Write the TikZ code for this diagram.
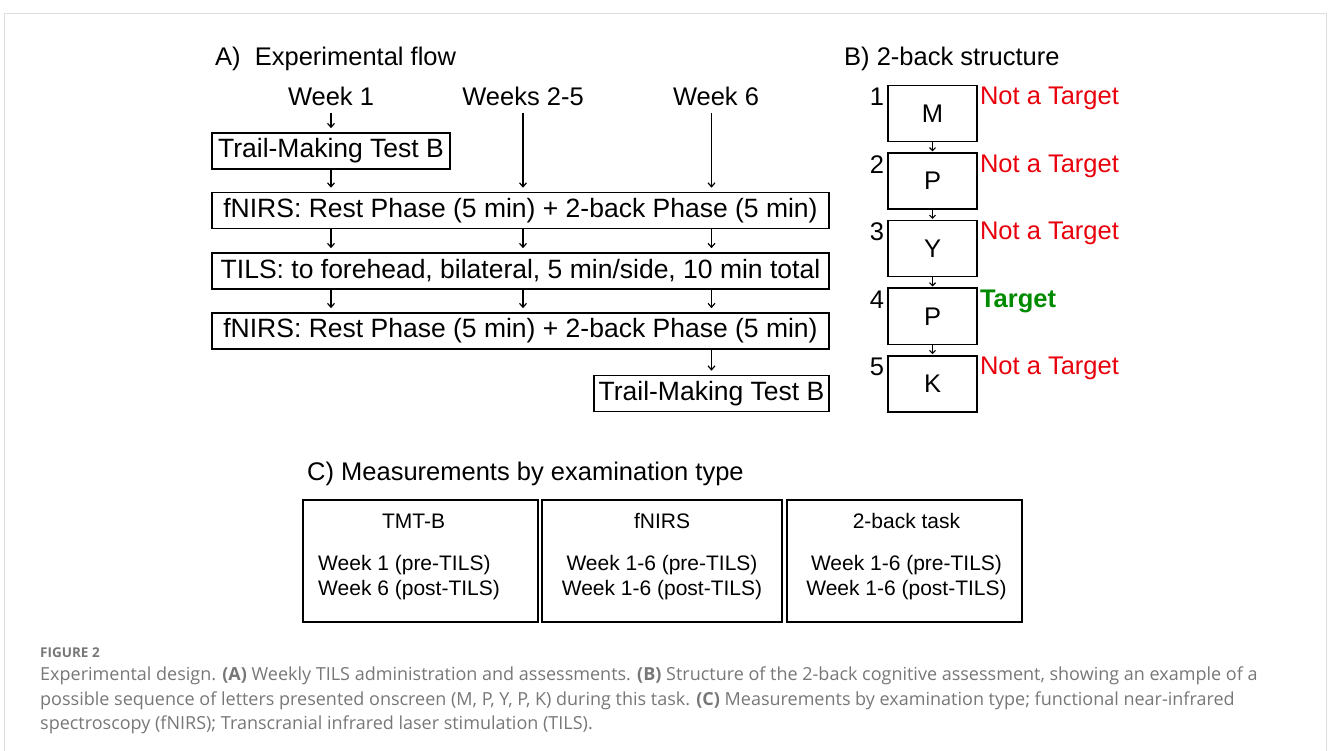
\documentclass[tikz,border=0pt]{standalone}
\usepackage{fontspec}
\setmainfont{Liberation Sans}
\newfontfamily\captionfont{Open Sans}
\usetikzlibrary{arrows.meta,positioning}
\definecolor{frameGrey}{HTML}{DEDEDE}
\definecolor{notRed}{HTML}{E8000B}
\definecolor{hitGreen}{HTML}{008A00}
\definecolor{capGrey}{HTML}{777777}

\begin{document}
\begin{tikzpicture}[x=1pt,y=-1pt,
    txt/.style={inner sep=2pt,font=\fontsize{25.5}{30}\selectfont},
    flowbox/.style={draw,inner sep=2pt,line width=1.6pt,minimum height=36pt,font=\fontsize{26.5}{30}\selectfont},
    letterbox/.style={txt,draw,line width=1.6pt,minimum width=89pt,minimum height=56pt},
    measbox/.style={draw,line width=2.2pt,minimum height=122pt},
    meastxt/.style={inner sep=0pt,font=\fontsize{21}{25}\selectfont},
    flow/.style={-{Straight Barb[length=4pt,width=7pt]},line width=1.2pt,shorten >=4pt}]
  \useasboundingbox (0,0) rectangle (1328,751);
  \draw[frameGrey,line width=1.2pt] (4.5,751) -- (4.5,13.5) -- (1326.5,13.5) -- (1326.5,751);

  % A) experimental flow
  \node[txt,anchor=base west] (headA) at (213,66) {A)\ \ Experimental flow};
  \node[txt,anchor=base] (wk1) at (331,106) {Week 1};
  \node[txt,anchor=base] (wk25) at (523,106) {Weeks 2-5};
  \node[txt,anchor=base] (wk6) at (716,106) {Week 6};
  \node[flowbox,minimum width=238pt] (tmtA) at (331,151) {Trail-Making Test B};
  \node[flowbox,minimum width=617pt] (fnirsA) at (520.5,210.5) {fNIRS: Rest Phase (5 min) + 2-back Phase (5 min)};
  \node[flowbox,minimum width=617pt] (tils) at (520.5,271) {TILS: to forehead, bilateral, 5 min/side, 10 min total};
  \node[flowbox,minimum width=617pt] (fnirsB) at (520.5,331) {fNIRS: Rest Phase (5 min) + 2-back Phase (5 min)};
  \node[flowbox,minimum width=235pt] (tmtB) at (711.5,393.5) {Trail-Making Test B};

  \draw[flow,shorten <=5pt] (wk1.south -| tmtA) -- (tmtA);
  \draw[flow,shorten <=5pt] (wk25.south) -- (wk25.south |- fnirsA.north);
  \draw[flow,shorten <=5pt] (wk6.south -| tmtB) -- (tmtB |- fnirsA.north);
  \draw[flow] (tmtA) -- (tmtA |- fnirsA.north);
  \foreach \c in {tmtA,wk25,tmtB}{
    \draw[flow] (fnirsA.south -| \c) -- (tils.north -| \c);
    \draw[flow] (tils.south -| \c) -- (fnirsB.north -| \c);
  }
  \draw[flow] (fnirsB.south -| tmtB) -- (tmtB);

  % B) 2-back structure
  \node[txt,anchor=base west] (headB) at (842,66) {B) 2-back structure};
  \node[letterbox] (l1) at (932.5,113.5) {M};
  \node[letterbox,below=10pt of l1] (l2) {P};
  \node[letterbox,below=10pt of l2] (l3) {Y};
  \node[letterbox,below=10pt of l3] (l4) {P};
  \node[letterbox,below=10pt of l4] (l5) {K};
  \foreach \i in {1,...,5}
    \node[txt,anchor=north east,inner sep=3pt] (num\i) at (l\i.north west) {\i};
  \foreach \i/\j in {1/2,2/3,3/4,4/5}
    \draw[-{Straight Barb[length=3pt,width=6pt]},line width=1.1pt,shorten >=1pt] (l\i) -- (l\j);
  \foreach \i in {1,2,3,5}
    \node[txt,text=notRed,anchor=north west] (res\i) at (l\i.north east) {Not a Target};
  \node[txt,text=hitGreen,anchor=north west,font=\fontsize{25.5}{30}\selectfont\bfseries] (res4) at (l4.north east) {Target};

  % C) measurements
  \node[txt,anchor=base west] (headC) at (305,480) {C) Measurements by examination type};
  \node[measbox,minimum width=235pt] (tmtC) at (420.5,561) {};
  \node[measbox,minimum width=240pt] (fnirsC) at (662,561) {};
  \node[measbox,minimum width=235pt] (backC) at (904.5,561) {};
  \node[meastxt,anchor=base] (tmtT) at (413.5,528) {TMT-B};
  \node[meastxt,anchor=base west] (tmtL1) at (318,570) {Week 1 (pre-TILS)};
  \node[meastxt,anchor=base west] (tmtL2) at (318,595) {Week 6 (post-TILS)};
  \node[meastxt,anchor=base] (fnirsT) at (662,528) {fNIRS};
  \node[meastxt,anchor=base] (fnirsL1) at (662,570) {Week 1-6 (pre-TILS)};
  \node[meastxt,anchor=base] (fnirsL2) at (662,595) {Week 1-6 (post-TILS)};
  \node[meastxt,anchor=base] (backT) at (906.5,528) {2-back task};
  \node[meastxt,anchor=base] (backL1) at (906.5,570) {Week 1-6 (pre-TILS)};
  \node[meastxt,anchor=base] (backL2) at (906.5,595) {Week 1-6 (post-TILS)};

  % caption
  \node[anchor=base west,inner sep=0pt,text=capGrey,font=\captionfont\fontsize{13.5}{16}\selectfont\bfseries] (figno) at (40,657) {FIGURE 2};
  \node[anchor=north west,inner sep=0pt,align=left,text=capGrey,font=\captionfont\fontsize{18}{24.2}\selectfont] (caption) at (40,667)
    {Experimental design. \textbf{(A)} Weekly TILS administration and assessments. \textbf{(B)} Structure of the 2-back cognitive assessment, showing an example of a\\
     possible sequence of letters presented onscreen (M, P, Y, P, K) during this task. \textbf{(C)} Measurements by examination type; functional near-infrared\\
     spectroscopy (fNIRS); Transcranial infrared laser stimulation (TILS).};
\end{tikzpicture}
\end{document}
